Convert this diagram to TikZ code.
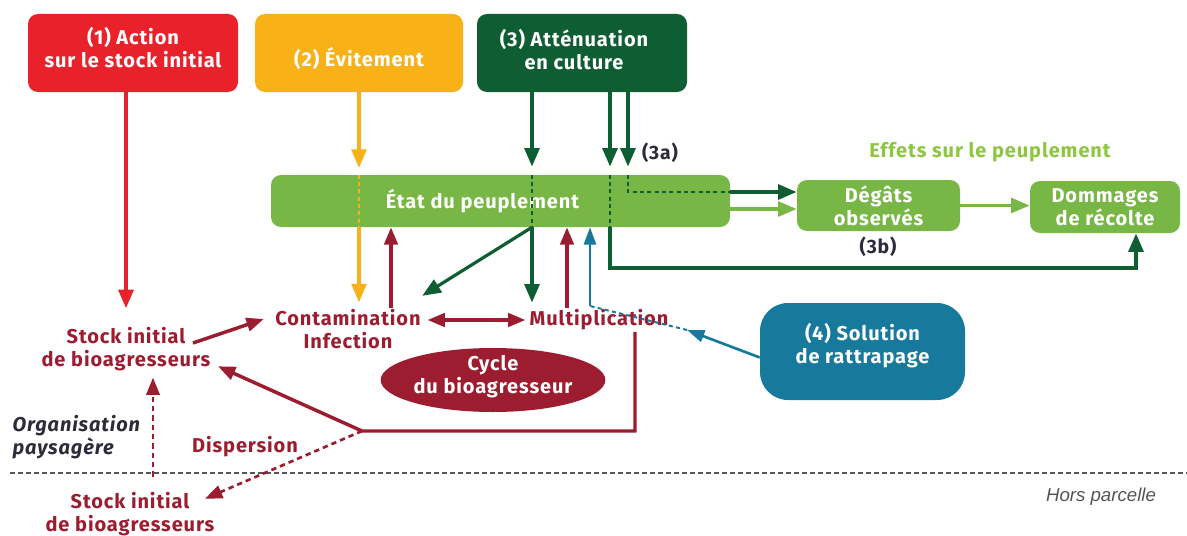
\documentclass[tikz,border=0pt]{standalone}
\usepackage{fontspec}
\setmainfont{Fira Sans}[LetterSpace=4.5]
\newfontfamily\arialfont{Liberation Sans}
\usetikzlibrary{arrows.meta,calc,shapes.geometric}
\definecolor{cred}{HTML}{E9212B}
\definecolor{corange}{HTML}{F9B118}
\definecolor{cdgreen}{HTML}{0F5E33}
\definecolor{clgreen}{HTML}{78B645}
\definecolor{ceffets}{HTML}{8DC641}
\definecolor{cdred}{HTML}{9C1C30}
\definecolor{cteal}{HTML}{17799C}
\definecolor{ctext}{HTML}{2B2B3A}
\definecolor{cgray}{HTML}{555555}
\newcommand\boxtext[2]{\raisebox{#1}[0pt][0pt]{\begin{tabular}{@{}c@{}}#2\end{tabular}}}
\begin{document}
\begin{tikzpicture}[x=0.75pt,y=-0.75pt,
  box/.style={rounded corners=7.5pt, text=white, font=\bfseries\fontsize{15}{17}\selectfont, align=center, inner sep=0pt},
  lbl/.style={font=\bfseries\fontsize{15}{17}\selectfont, align=center, inner sep=1pt, text=cdred},
  tip/.style={-{Triangle[length=14pt,width=11pt]}},
  arrRed/.style={tip, line width=3pt, draw=cred},
  arrO/.style={tip, line width=2.6pt, draw=corange},
  arrG/.style={tip, line width=3pt, draw=cdgreen},
  arrL/.style={tip, line width=2.6pt, draw=clgreen},
  arrR/.style={-{Triangle[length=13pt,width=10pt]}, line width=2.6pt, draw=cdred},
  arrB/.style={-{Triangle[length=13pt,width=9pt]}, line width=2pt, draw=cteal},
  gdash/.style={draw=cdgreen, line width=1.3pt, dash pattern=on 3pt off 2.5pt},
]
\path[use as bounding box, fill=white] (0,0) rectangle (1187,535);

% boxes
\node[box, fill=cred, minimum width=157.5pt, minimum height=58.5pt] (b1) at (133,53) {\boxtext{-2.2pt}{(1) Action\\sur le stock initial}};
\node[box, fill=corange, minimum width=156pt, minimum height=58.5pt] (b2) at (359,53) {\raisebox{-10pt}[0pt][0pt]{(2) Évitement}};
\node[box, fill=cdgreen, minimum width=157.5pt, minimum height=58.5pt] (b3) at (582,53) {\hspace*{-12pt}\boxtext{-3.3pt}{(3) Atténuation\\en culture}};
\node[box, fill=clgreen, minimum width=344.25pt, minimum height=39pt] (etat) at (500.5,201) {\hspace*{-27pt}État du peuplement};
\node[box, fill=clgreen, minimum width=122.25pt, minimum height=38.25pt] (deg) at (878.5,205.5) {Dégâts\\observés};
\node[box, fill=clgreen, minimum width=112.5pt, minimum height=39pt] (dom) at (1105,207) {Dommages\\de récolte};
\node[box, fill=cteal, rounded corners=21pt, minimum width=153.75pt, minimum height=72.75pt] (b4) at (862.5,351.5) {\boxtext{0pt}{(4) Solution\\de rattrapage}};
\node[ellipse, fill=cdred, text=white, font=\bfseries\fontsize{15}{17}\selectfont, align=center, inner sep=0pt, minimum width=165pt, minimum height=48pt] (cycle) at (493,380) {\boxtext{-1.8pt}{Cycle\\du bioagresseur}};

% labels
\node[lbl] (stock1) at (126,349) {Stock initial\\de bioagresseurs};
\node[lbl] (cont) at (348,329) {Contamination\\Infection};
\node[lbl] (mult) at (599,320) {Multiplication};
\node[lbl] (stock2) at (130,514) {Stock initial\\de bioagresseurs};
\node[lbl] (disp) at (245,447) {Dispersion};
\node[lbl, text=ctext, font=\bfseries\itshape\fontsize{15}{17}\selectfont, align=left, anchor=west] (org) at (11,437) {Organisation\\paysagère};
\node[font=\arialfont\itshape\fontsize{14}{16}\selectfont, text=cgray, inner sep=0pt] (hors) at (1101,497) {Hors parcelle};
\node[font=\bfseries\fontsize{15}{17}\selectfont, text=ceffets, inner sep=0pt] (effets) at (990,152) {Effets sur le peuplement};
\node[font=\bfseries\fontsize{14.5}{16}\selectfont, text=ctext, inner sep=0pt] (l3a) at (660,153) {(3a)};
\node[font=\bfseries\fontsize{14.5}{16}\selectfont, text=ctext, inner sep=0pt] (l3b) at (878,247) {(3b)};

% helper coordinates
\coordinate (xg1) at (532,0);
\coordinate (xg2) at (610,0);
\coordinate (xg3) at (628,0);
\coordinate (ga) at (628,192);
\coordinate (gb) at (610,268);
\coordinate (xg4) at (1136,0);
\coordinate (lg) at (0,209);
\coordinate (xr1) at (391,0);
\coordinate (xr2) at (567,0);
\coordinate (xr3) at (635,0);
\coordinate (rc) at (362,431);
\coordinate (xs) at (153,0);
\coordinate (bl1) at (687,330);
\coordinate (bl2) at (590,306);
\coordinate (sepL) at (10,473);
\coordinate (sepR) at (1187,473);

% separator
\draw[cgray, line width=1.2pt, dash pattern=on 3.5pt off 2.5pt] (sepL) -- (sepR);

% red
\draw[arrRed, shorten >=13pt] (b1.south -| stock1.north) -- (stock1.north);

% orange
\draw[arrO, shorten >=5pt] (b2.south) -- (etat.north -| b2.south);
\draw[corange, line width=1.3pt, dash pattern=on 3pt off 2.5pt] (etat.north -| b2.south) -- (etat.south -| b2.south);
\draw[arrO, shorten >=4pt] (etat.south -| b2.south) -- (cont.north -| b2.south);

% dark green
\draw[arrG, shorten >=6pt] (b3.south -| xg1) -- (etat.north -| xg1);
\draw[gdash] (etat.north -| xg1) -- (etat.south -| xg1);
\draw[arrG, shorten >=4pt] (etat.south -| xg1) -- (mult.north -| xg1);
\draw[tip, draw=cdgreen, line width=2.4pt] (etat.south -| xg1) -- ($(cont.north east)+(0,-12)$);
\draw[arrG, shorten >=6pt] (b3.south -| xg2) -- (etat.north -| xg2);
\draw[gdash] (etat.north -| xg2) -- (etat.south -| xg2);
\draw[arrG] (etat.south -| xg2) -- (gb) -| (dom.south -| xg4);
\draw[arrG, shorten >=6pt] (b3.south -| xg3) -- (etat.north -| xg3);
\draw[gdash] (etat.north -| xg3) -- (ga) -- (ga -| etat.east);
\draw[arrG] (ga -| etat.east) -- (ga -| deg.west);

% light green
\draw[arrL] (etat.east |- lg) -- (deg.west |- lg);
\draw[arrL] (deg.east) -- (deg.east -| dom.west);

% dark red
\draw[arrR] (cont.north -| xr1) -- (etat.south -| xr1);
\draw[arrR] (mult.north -| xr2) -- (etat.south -| xr2);
\draw[arrR, {Triangle[length=13pt,width=10pt]}-{Triangle[length=13pt,width=10pt]}, shorten <=4pt, shorten >=2pt] (cont.east |- mult.west) -- (mult.west);
\draw[arrR] ($(stock1.east)+(-19,-6)$) -- ($(cont.west)+(-10,-10)$);
\draw[arrR] (mult.south -| xr3) -- (rc -| xr3) -- (rc) -- ($(stock1.south east)+(6,-6)$);
\draw[arrR, line width=2pt, dash pattern=on 4pt off 3pt] (rc) -- ($(stock2.north east)+(-11,8)$);
\draw[arrR, line width=2pt, dash pattern=on 4pt off 3pt, shorten >=4pt] ($(stock2.north -| xs)+(0,-14)$) -- (stock1.south -| xs);

% blue
\draw[arrB] ($(b4.west)+(0,6)$) -- (bl1);
\draw[cteal, line width=1.5pt, dash pattern=on 3pt off 2.5pt] (bl1) -- (bl2);
\draw[arrB] (bl2) -- (etat.south -| bl2);
\end{tikzpicture}
\end{document}
